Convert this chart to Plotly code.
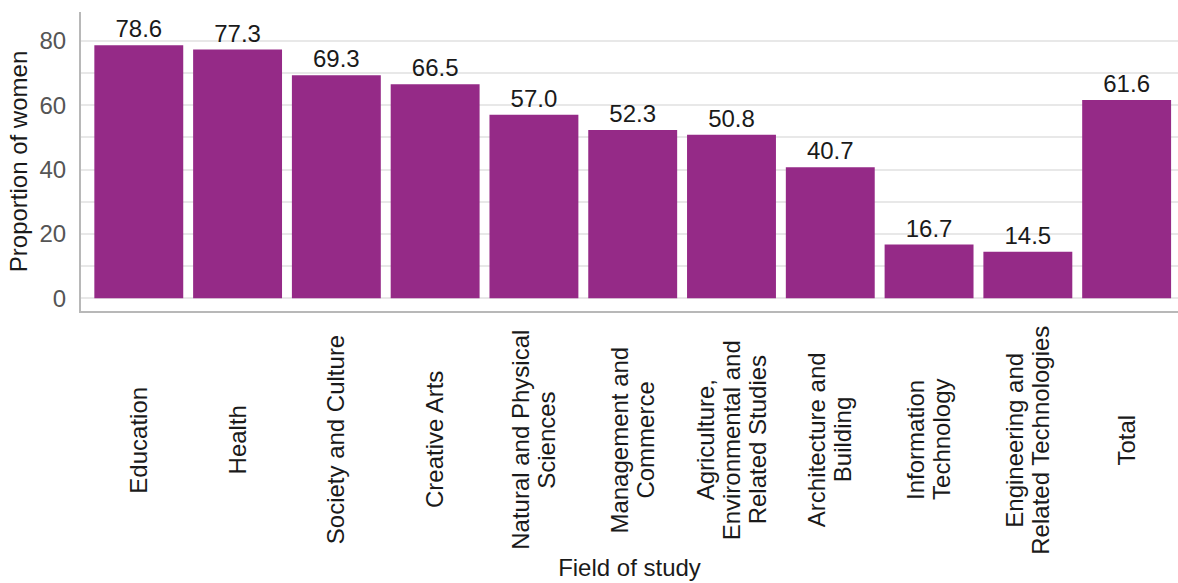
import plotly.graph_objects as go

# Share of women enrolled, by broad field of study
fields = [
    "Education",
    "Health",
    "Society and Culture",
    "Creative Arts",
    "Natural and Physical<br>Sciences",
    "Management and<br>Commerce",
    "Agriculture,<br>Environmental and<br>Related Studies",
    "Architecture and<br>Building",
    "Information<br>Technology",
    "Engineering and<br>Related Technologies",
    "Total",
]
proportion_women = [78.6, 77.3, 69.3, 66.5, 57.0, 52.3, 50.8, 40.7, 16.7, 14.5, 61.6]

y_ticks = [0, 20, 40, 60, 80]

FONT = "Liberation Sans, Arial, Helvetica, sans-serif"
FS = 24
LINE_GAP = 26  # px between lines of a rotated category label
BAR_COLOR = "#952a87"
GRID = "#e8e8e8"
AXIS_LINE = "#b8b8b8"

positions = list(range(len(fields)))

fig = go.Figure(
    go.Bar(
        x=positions,
        y=proportion_women,
        width=0.9,
        marker=dict(color=BAR_COLOR, line=dict(width=0)),
        text=[f"{v:.1f}" for v in proportion_women],
        textposition="outside",
        textfont=dict(family=FONT, size=FS, color="#1a1a1a"),
        cliponaxis=False,
        hoverinfo="skip",
    )
)

# Rotated category labels, centred under each bar; each line is placed
# separately so the wrapped labels keep a tight line spacing.
for pos, name in zip(positions, fields):
    lines = name.split("<br>")
    n = len(lines)
    for i, line in enumerate(lines):
        fig.add_annotation(
            x=pos,
            y=-0.431,
            xref="x",
            yref="paper",
            text=line,
            textangle=-90,
            showarrow=False,
            xanchor="center",
            yanchor="middle",
            xshift=(i - (n - 1) / 2) * LINE_GAP,
            font=dict(family=FONT, size=FS, color="#1a1a1a"),
        )

fig.update_layout(
    width=1178,
    height=583,
    margin=dict(l=81, r=0, t=12, b=272, autoexpand=False),
    plot_bgcolor="white",
    paper_bgcolor="white",
    showlegend=False,
    bargap=0.1,
    font=dict(family=FONT, size=FS, color="#1a1a1a"),
    xaxis=dict(
        range=[-0.585, 10.52],
        showticklabels=False,
        showgrid=False,
        zeroline=False,
        showline=True,
        linecolor=AXIS_LINE,
        linewidth=2,
        ticks="",
        title=dict(text="Field of study", font=dict(size=FS, color="#1a1a1a"), standoff=247),
        automargin=False,
    ),
    yaxis=dict(
        range=[-3.94, 88.95],
        tickvals=y_ticks,
        ticktext=[str(v) for v in y_ticks],
        tickfont=dict(size=FS, color="#555555"),
        ticks="",
        ticklabelstandoff=8,
        showgrid=True,
        gridcolor=GRID,
        gridwidth=2,
        minor=dict(dtick=10, tick0=0, showgrid=True, gridcolor=GRID, gridwidth=2),
        zeroline=False,
        showline=True,
        linecolor=AXIS_LINE,
        linewidth=2,
        title=dict(text="Proportion of women", font=dict(size=FS, color="#1a1a1a"), standoff=5),
        automargin=False,
    ),
)

fig.write_html("out.html")
